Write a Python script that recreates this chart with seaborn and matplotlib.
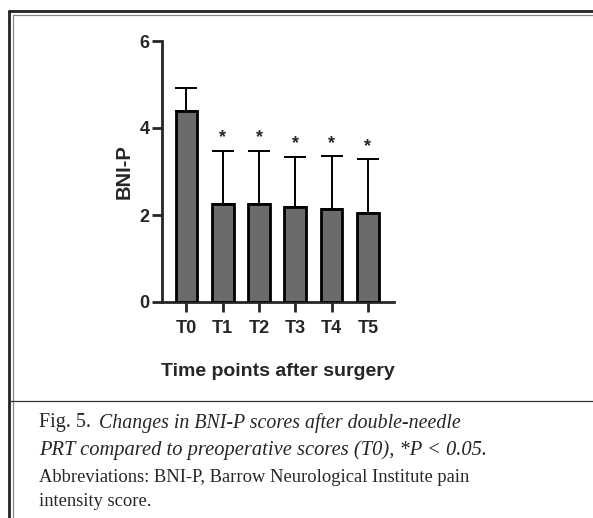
import numpy as np
import pandas as pd
import matplotlib
matplotlib.use("Agg")
import matplotlib.pyplot as plt
from matplotlib.lines import Line2D
import seaborn as sns

# values
time_points = ["T0", "T1", "T2", "T3", "T4", "T5"]
mean_bni = [4.40, 2.25, 2.25, 2.18, 2.14, 2.05]
sd_bni = [0.53, 1.23, 1.23, 1.16, 1.22, 1.23]
signif = ["", "*", "*", "*", "*", "*"]

df = pd.DataFrame({"time": time_points, "bni": mean_bni})

sns.set_style("ticks")
plt.rcParams["font.family"] = ["Liberation Sans", "DejaVu Sans"]

W, H = 593, 518
fig = plt.figure(figsize=(W / 100, H / 100), dpi=100)
ax = fig.add_axes([162 / W, 1 - 302 / H, (394 - 162) / W, (302 - 41) / H])

sns.barplot(data=df, x="time", y="bni", color="#6b6b6b", saturation=1,
            width=0.6, edgecolor="black", linewidth=2.0, ax=ax, zorder=3)

# upper SD only
ax.errorbar(np.arange(len(time_points)), mean_bni,
            yerr=[np.zeros(len(sd_bni)), sd_bni], fmt="none",
            ecolor="black", elinewidth=1.4, capsize=8, capthick=1.4, zorder=2)

for i, (m, s, lab) in enumerate(zip(mean_bni, sd_bni, signif)):
    if lab:
        ax.annotate(lab, (i, m + s), xytext=(0, 3), textcoords="offset points",
                    ha="center", va="bottom", fontsize=13, fontweight="bold")

ax.set_xlim(-0.675, 5.72)
ax.set_ylim(0, 6)
ax.set_yticks([0, 2, 4, 6])
sns.despine(ax=ax)
for sp in ["left", "bottom"]:
    ax.spines[sp].set_linewidth(2.0)
ax.tick_params(axis="both", width=2.0, length=7, labelsize=13)
ax.tick_params(axis="x", pad=6)
ax.tick_params(axis="y", pad=2)
for t in ax.get_xticklabels() + ax.get_yticklabels():
    t.set_fontweight("bold")
ax.set_xlabel("Time points after surgery", fontsize=14, fontweight="bold", labelpad=19)
ax.set_ylabel("BNI-P", fontsize=14.5, fontweight="bold", labelpad=4)
ax.set_facecolor("white")

# page frame
fig.add_artist(Line2D([9.3 / W, 9.3 / W], [0, 1 - 11.3 / H], transform=fig.transFigure,
                      color="#222222", lw=2.0))
fig.add_artist(Line2D([9.3 / W, 1], [1 - 11.3 / H, 1 - 11.3 / H], transform=fig.transFigure,
                      color="#222222", lw=2.0))
fig.add_artist(Line2D([12.7 / W, 12.7 / W], [0, 1 - 14.7 / H], transform=fig.transFigure,
                      color="#888888", lw=0.9))
fig.add_artist(Line2D([12.7 / W, 1], [1 - 14.7 / H, 1 - 14.7 / H], transform=fig.transFigure,
                      color="#888888", lw=0.9))
fig.add_artist(Line2D([9.3 / W, 1], [1 - 400.5 / H, 1 - 400.5 / H], transform=fig.transFigure,
                      color="#333333", lw=0.9))

# caption
serif = ["Liberation Serif", "DejaVu Serif"]
cap_size = 13.3
ital_size = 14.0
x0 = 39 / W
fig.text(x0, 1 - 423 / H, "Fig. 5. ", family=serif, fontsize=cap_size + 1.2, va="center")
fig.text(99 / W, 1 - 423 / H, "Changes in BNI-P scores after double-needle",
         family=serif, fontsize=ital_size + 0.3, style="italic", va="center")
fig.text(x0, 1 - 450 / H, "PRT compared to preoperative scores (T0), *P < 0.05.",
         family=serif, fontsize=ital_size + 0.8, style="italic", va="center")
fig.text(x0, 1 - 477 / H, "Abbreviations: BNI-P, Barrow Neurological Institute pain",
         family=serif, fontsize=cap_size, va="center")
fig.text(x0, 1 - 502 / H, "intensity score.",
         family=serif, fontsize=cap_size, va="center")

fig.savefig("out.png", dpi=100, facecolor="white")
